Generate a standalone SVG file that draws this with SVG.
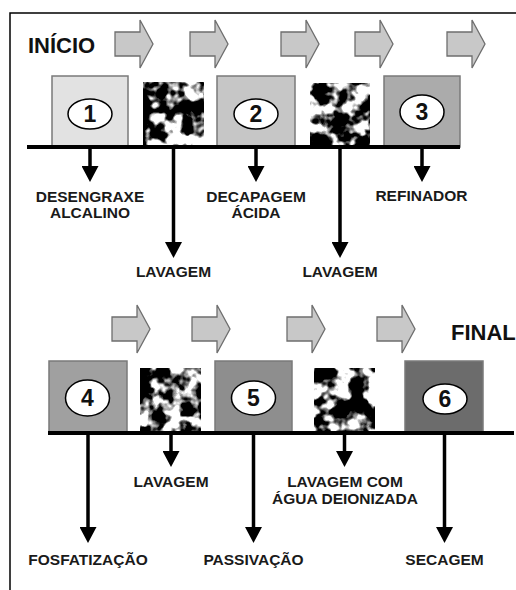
<svg xmlns="http://www.w3.org/2000/svg" xmlns:xlink="http://www.w3.org/1999/xlink" width="516" height="590" viewBox="0 0 516 590">
<style>
.frame{fill:none;stroke:#000;stroke-width:1.5}
.base{stroke:#000;stroke-width:4;fill:none}
.conn{stroke:#000;stroke-width:3.5;fill:none;marker-end:url(#ah)}
.box{stroke:#7a7a7a;stroke-width:1.5}
.flow{fill:#c8c8c8;stroke:#6e6e6e;stroke-width:1.3}
.oval{fill:#fff;stroke:#000;stroke-width:1.5}
.num{font-family:"Liberation Sans",Arial,sans-serif;font-weight:bold;font-size:23px;fill:#111;text-anchor:middle}
.lbl{font-family:"Liberation Sans",Arial,sans-serif;font-weight:bold;font-size:15.5px;fill:#1a1a1a;text-anchor:middle}
.big{font-family:"Liberation Sans",Arial,sans-serif;font-weight:bold;font-size:22px;fill:#111}
.noise{fill:#fff;filter:url(#nz)}
</style>
<defs>
<marker id="ah" viewBox="0 0 16 17" markerWidth="16" markerHeight="17" refX="0" refY="8.5" orient="auto" markerUnits="userSpaceOnUse">
<path d="M0,0 L16,8.5 L0,17 Z" fill="#000"/>
</marker>
<path id="blk" d="M0,12 H25 V0 L38,24 L25,48 V36 H0 Z"/>
<filter id="nz" x="0" y="0" width="1" height="1" color-interpolation-filters="sRGB">
<feTurbulence type="fractalNoise" baseFrequency="0.06" numOctaves="3" seed="11"/>
<feColorMatrix type="matrix" values="7 0 0 0 -3.2  7 0 0 0 -3.2  7 0 0 0 -3.2  0 0 0 0 1"/>
</filter>
</defs>
<rect width="516" height="590" fill="#fff"/>
<path class="frame" d="M10,590 V13 H516"/>

<g id="title-inicio"><text class="big" x="28" y="53">INÍCIO</text></g>
<g id="title-final"><text class="big" x="451" y="340" font-size="21">FINAL</text></g>

<g id="flow-arrows">
<use href="#blk" class="flow" transform="translate(115,20)"/>
<use href="#blk" class="flow" transform="translate(190,20)"/>
<use href="#blk" class="flow" transform="translate(281,20)"/>
<use href="#blk" class="flow" transform="translate(355,20)"/>
<use href="#blk" class="flow" transform="translate(447,20)"/>
<use href="#blk" class="flow" transform="translate(112,305)"/>
<use href="#blk" class="flow" transform="translate(192,305)"/>
<use href="#blk" class="flow" transform="translate(287,305)"/>
<use href="#blk" class="flow" transform="translate(377,305)"/>
</g>

<g id="step1"><rect class="box" x="52" y="76" width="76" height="71" fill="#e2e2e2"/><ellipse class="oval" cx="90" cy="114" rx="22" ry="15"/><text class="num" x="90" y="122">1</text></g>
<g id="rinse1"><rect class="noise" x="143" y="82" width="61" height="65"/></g>
<g id="step2"><rect class="box" x="217" y="76" width="78" height="71" fill="#c6c6c6"/><ellipse class="oval" cx="256" cy="114" rx="22" ry="15"/><text class="num" x="256" y="122">2</text></g>
<g id="rinse2"><rect class="noise" x="310" y="83" width="60" height="64"/></g>
<g id="step3"><rect class="box" x="384" y="76" width="76" height="71" fill="#ababab"/><ellipse class="oval" cx="422" cy="112" rx="22" ry="17"/><text class="num" x="422" y="120">3</text></g>

<g id="step4"><rect class="box" x="49" y="361" width="78" height="72" fill="#a0a0a0"/><ellipse class="oval" cx="87.5" cy="398" rx="22" ry="18"/><text class="num" x="87.5" y="406">4</text></g>
<g id="rinse3"><rect class="noise" x="140" y="368" width="61" height="65"/></g>
<g id="step5"><rect class="box" x="215" y="361" width="77" height="72" fill="#8e8e8e"/><ellipse class="oval" cx="253.5" cy="398" rx="22" ry="17"/><text class="num" x="253.5" y="406">5</text></g>
<g id="rinse4"><rect class="noise" x="314" y="368" width="61" height="65"/></g>
<g id="step6"><rect class="box" x="405" y="361" width="78" height="72" fill="#6c6c6c"/><ellipse class="oval" cx="445" cy="399" rx="22" ry="15"/><text class="num" x="445" y="407">6</text></g>

<g id="connectors">
<line class="base" x1="27" y1="147" x2="460" y2="147"/>
<line class="base" x1="48" y1="433" x2="514" y2="433"/>
<line class="conn" x1="90" y1="147" x2="90" y2="166"/>
<line class="conn" x1="173.5" y1="147" x2="173.5" y2="242"/>
<line class="conn" x1="256" y1="147" x2="256" y2="166"/>
<line class="conn" x1="340" y1="147" x2="340" y2="242"/>
<line class="conn" x1="422" y1="147" x2="422" y2="166"/>
<line class="conn" x1="88" y1="433" x2="88" y2="527"/>
<line class="conn" x1="171" y1="433" x2="171" y2="451"/>
<line class="conn" x1="253.5" y1="433" x2="253.5" y2="527"/>
<line class="conn" x1="344.5" y1="433" x2="344.5" y2="451"/>
<line class="conn" x1="444.5" y1="433" x2="444.5" y2="527"/>
</g>

<g id="label-desengraxe"><text class="lbl" x="90" y="202">DESENGRAXE</text><text class="lbl" x="90" y="218">ALCALINO</text></g>
<g id="label-lavagem1"><text class="lbl" x="173.5" y="277">LAVAGEM</text></g>
<g id="label-decapagem"><text class="lbl" x="256" y="202">DECAPAGEM</text><text class="lbl" x="256" y="218">ÁCIDA</text></g>
<g id="label-lavagem2"><text class="lbl" x="340" y="277">LAVAGEM</text></g>
<g id="label-refinador"><text class="lbl" x="421.5" y="201">REFINADOR</text></g>
<g id="label-fosfatizacao"><text class="lbl" x="88" y="565">FOSFATIZAÇÃO</text></g>
<g id="label-lavagem3"><text class="lbl" x="171" y="487">LAVAGEM</text></g>
<g id="label-passivacao"><text class="lbl" x="253.5" y="565">PASSIVAÇÃO</text></g>
<g id="label-lavagem4"><text class="lbl" x="345" y="487">LAVAGEM COM</text><text class="lbl" x="345" y="504">ÁGUA DEIONIZADA</text></g>
<g id="label-secagem"><text class="lbl" x="444.5" y="565">SECAGEM</text></g>
</svg>
